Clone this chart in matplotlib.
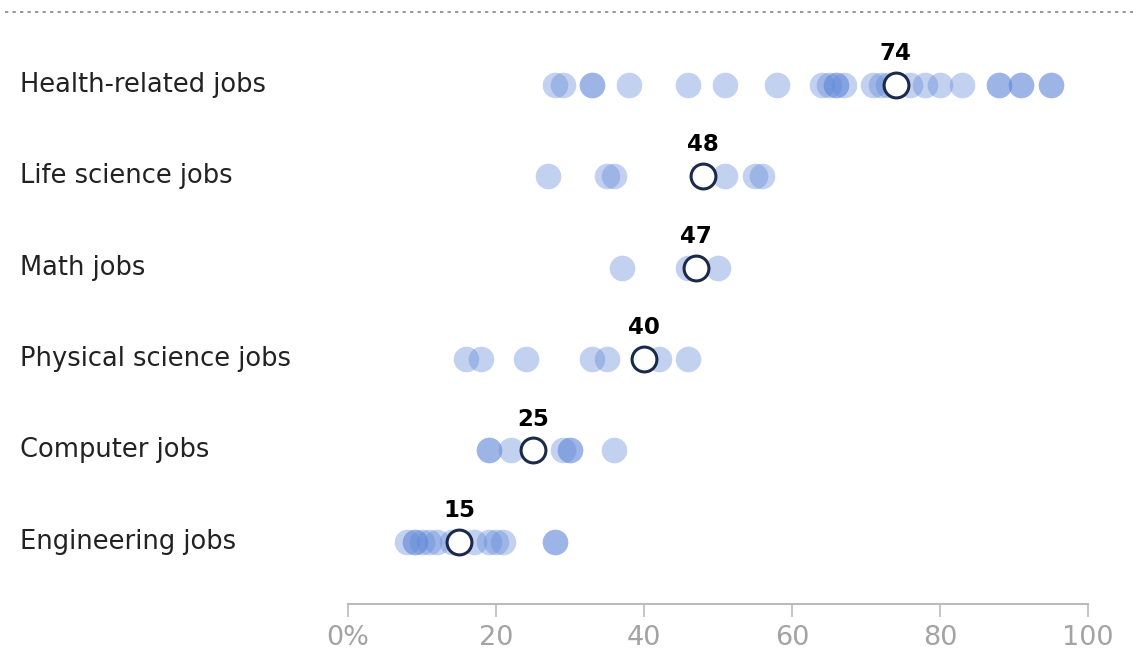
import numpy as np
import matplotlib.pyplot as plt
from matplotlib.lines import Line2D
from matplotlib.transforms import blended_transform_factory

# === 数据 ===
categories = ["Health-related jobs", "Life science jobs", "Math jobs",
              "Physical science jobs", "Computer jobs", "Engineering jobs"]

health = [28, 29, 33, 33, 38, 46, 51, 58, 64, 65, 66, 66, 67, 71, 72, 73, 76, 78, 80, 83,
          88, 88, 91, 91, 95, 95]
life = [27, 35, 36, 51, 55, 56]
math_ = [37, 46, 50]
physical = [16, 18, 24, 33, 35, 42, 46]
computer = [19, 19, 22, 29, 30, 30, 36]
engineering = [8, 9, 9, 10, 11, 12, 14, 17, 19, 20, 21, 28, 28]
occupations = [health, life, math_, physical, computer, engineering]

medians = [74, 48, 47, 40, 25, 15]
xticks = [0, 20, 40, 60, 80, 100]
xticklabels = ["0%", "20", "40", "60", "80", "100"]

plt.rcParams['font.family'] = ['DejaVu Sans']

W, H = 1138, 654
fig = plt.figure(figsize=(W / 100, H / 100), dpi=100)
ax = fig.add_axes([348 / W, 1 - 604 / H, (1088 - 348) / W, (604 - 40) / H])

n = len(categories)
ypos = np.arange(n)[::-1]  # Health 在最上面

for y, vals in zip(ypos, occupations):
    ax.scatter(vals, [y] * len(vals), s=340, color="#5f88d8", alpha=0.38,
               linewidths=0, zorder=2)

ax.scatter(medians, ypos, s=320, facecolor="white", edgecolor="#1c2a4a",
           linewidths=2.2, zorder=3)

for y, m in zip(ypos, medians):
    ax.annotate(str(m), (m, y), xytext=(0, 22.5), textcoords="offset points",
                ha="center", va="center", fontsize=16.5, fontweight="bold",
                color="black", zorder=4)

# 行标签
trans = blended_transform_factory(fig.transFigure, ax.transData)
for y, c in zip(ypos, categories):
    ax.text(20 / W, y, c, transform=trans, ha="left", va="center",
            fontsize=18.5, color="#222222")

ax.set_xlim(0, 100)
ax.set_ylim(-0.68, 5.49)
ax.set_yticks([])
ax.set_xticks(xticks)
ax.set_xticklabels(xticklabels)
for s in ["top", "right", "left"]:
    ax.spines[s].set_visible(False)
ax.spines["bottom"].set_color("#bbbbbb")
ax.spines["bottom"].set_linewidth(1.5)
ax.tick_params(axis="x", direction="out", length=9, width=1.2, color="#bbbbbb",
               labelcolor="#a3a3a3", labelsize=19.5, pad=6)

# 顶部虚线
fig.add_artist(Line2D([5 / W, 1133 / W], [1 - 12 / H, 1 - 12 / H],
                      transform=fig.transFigure, color="#888888",
                      linestyle=(0, (2, 2.5)), linewidth=1.2))

fig.savefig("out.png", dpi=100)
plt.close()
